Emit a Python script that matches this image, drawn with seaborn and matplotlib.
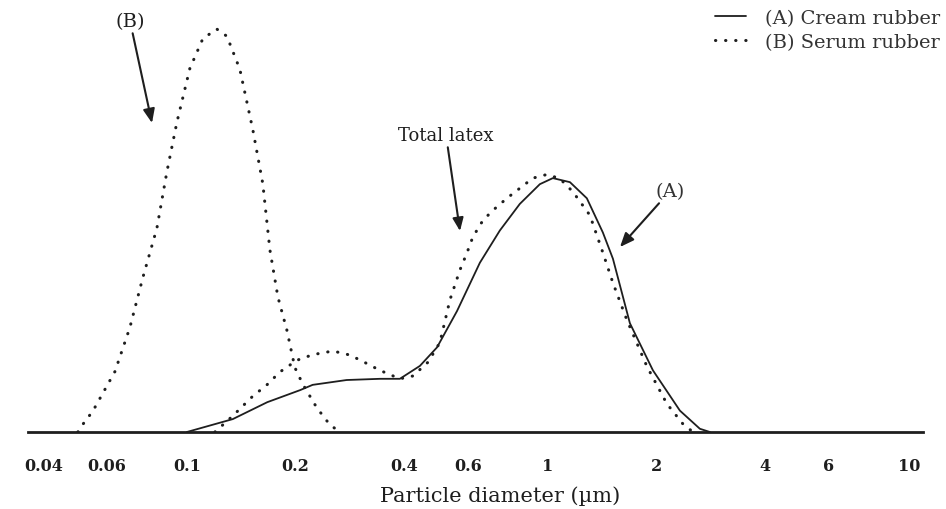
import numpy as np
import pandas as pd
import matplotlib
matplotlib.use("Agg")
import matplotlib.pyplot as plt
import seaborn as sns

# ---- data ----
# (A) Cream rubber - solid
cream_x = [0.100, 0.134, 0.167, 0.206, 0.223, 0.277, 0.343, 0.389, 0.442, 0.493,
           0.560, 0.648, 0.736, 0.836, 0.950, 1.032, 1.151, 1.282, 1.420, 1.514,
           1.687, 1.954, 2.321, 2.636, 2.81]
cream_y = [0.0, 3.2, 7.4, 10.4, 11.7, 12.9, 13.2, 13.2, 16.4, 21.0,
           30.0, 42.0, 50.0, 56.6, 61.5, 63.0, 62.0, 58.0, 49.5, 43.0,
           27.0, 15.3, 5.3, 0.8, 0.0]

# (B) Serum rubber - dotted
serum_x = [0.0499, 0.0512, 0.0549, 0.0632, 0.0695, 0.0755, 0.0826, 0.0880, 0.0938,
           0.1019, 0.1107, 0.1210, 0.1291, 0.1402, 0.1523, 0.1623, 0.1698, 0.1787,
           0.1892, 0.1991, 0.2096, 0.2291, 0.2489, 0.2654]
serum_y = [0.0, 1.6, 5.2, 15.0, 25.9, 38.3, 50.6, 64.5, 76.8,
           90.2, 97.6, 100.0, 98.2, 90.0, 75.0, 61.6, 45.2, 33.5,
           25.3, 16.0, 11.8, 6.0, 1.8, 0.0]

# Total latex - dotted
total_x = [0.1196, 0.134, 0.1523, 0.1666, 0.181, 0.2017, 0.2234, 0.2539, 0.2828,
           0.3073, 0.3425, 0.389, 0.4227, 0.4652, 0.5022, 0.5354, 0.5706, 0.5964,
           0.6197, 0.6606, 0.704, 0.7697, 0.8363, 0.9087, 0.9936, 1.079, 1.173,
           1.307, 1.420, 1.514, 1.655, 1.880, 2.136, 2.366, 2.522]
total_y = [0.0, 4.0, 8.9, 11.7, 14.9, 17.8, 19.2, 20.1, 19.1,
           17.5, 15.3, 13.2, 13.9, 17.3, 22.2, 32.8, 40.2, 44.4,
           48.4, 52.5, 55.0, 58.0, 60.5, 63.0, 63.9, 62.9, 59.6,
           53.8, 44.5, 37.0, 27.8, 16.3, 7.0, 2.0, 0.0]

tick_vals = [0.04, 0.06, 0.1, 0.2, 0.4, 0.6, 1, 2, 4, 6, 10]
tick_labels = ["0.04", "0.06", "0.1", "0.2", "0.4", "0.6", "1", "2", "4", "6", "10"]

legend_labels = ["(A) Cream rubber", "(B) Serum rubber"]
xlabel = "Particle diameter (\u00b5m)"

# ---- figure ----
sns.set_theme(style="white")
plt.rcParams["font.family"] = ["DejaVu Serif", "DejaVu Sans"]

W, H = 946, 510
fig = plt.figure(figsize=(W / 100, H / 100), dpi=100)
fig.patch.set_facecolor("white")
ax_l, ax_r, ax_b, ax_t = 28, 923, 433, 26
ax = fig.add_axes([ax_l / W, (H - ax_b) / H, (ax_r - ax_l) / W, (ax_b - ax_t) / H])
ax.set_facecolor("white")

ink = "#1e1e1e"
df_c = pd.DataFrame({"x": cream_x, "y": cream_y})
df_s = pd.DataFrame({"x": serum_x, "y": serum_y})
df_t = pd.DataFrame({"x": total_x, "y": total_y})

sns.lineplot(data=df_c, x="x", y="y", ax=ax, color=ink, lw=1.3, sort=False,
             estimator=None, label=legend_labels[0])
sns.lineplot(data=df_s, x="x", y="y", ax=ax, color=ink, lw=2.2, sort=False,
             estimator=None, label=legend_labels[1],
             dashes=False, linestyle=(0, (0.1, 3.2)), dash_capstyle="round")
sns.lineplot(data=df_t, x="x", y="y", ax=ax, color=ink, lw=2.2, sort=False,
             estimator=None, linestyle=(0, (0.1, 3.2)), dash_capstyle="round")
for ln in ax.lines[1:]:
    ln.set_dash_capstyle("round")

ax.set_xscale("log")
ax.set_xlim(0.0363, 10.94)
ax.set_ylim(0, 101)
ax.set_xticks(tick_vals)
ax.set_xticklabels(tick_labels)
ax.xaxis.set_minor_locator(matplotlib.ticker.NullLocator())
ax.tick_params(axis="x", direction="out", length=6, width=1.5, color=ink,
               pad=12, labelsize=11.5, labelcolor=ink)
for t in ax.get_xticklabels():
    t.set_fontweight("bold")
ax.set_yticks([])
ax.set_ylabel("")
for s in ["left", "right", "top"]:
    ax.spines[s].set_visible(False)
ax.spines["bottom"].set_color(ink)
ax.spines["bottom"].set_linewidth(2.0)

ax.set_xlabel(xlabel, fontsize=15, color=ink)
ax.xaxis.label.set_va("center")
ax.xaxis.set_label_coords((500 - ax_l) / (ax_r - ax_l), (ax_b - 496) / (ax_b - ax_t))

leg = ax.legend(loc="upper right", bbox_to_anchor=(948 / W, 1 - 2 / H),
                bbox_transform=fig.transFigure, frameon=False, fontsize=14,
                handlelength=1.6, handletextpad=1.0, labelspacing=0.3,
                borderaxespad=0)
for txt in leg.get_texts():
    txt.set_color("#333333")

# annotations (figure pixel coordinates, y measured from the top)
def fp(px, py):
    return (px, H - py)

arrow_kw = dict(arrowstyle="-|>,head_length=0.6,head_width=0.25", color=ink, lw=1.5,
                shrinkA=0, shrinkB=0)
ax.annotate("(B)", xy=fp(152, 124), xycoords="figure pixels",
            xytext=fp(130, 22), textcoords="figure pixels",
            ha="center", va="center", fontsize=14, color=ink, arrowprops=arrow_kw)
ax.annotate("Total latex", xy=fp(460, 232), xycoords="figure pixels",
            xytext=fp(446, 136), textcoords="figure pixels",
            ha="center", va="center", fontsize=13, color=ink, arrowprops=arrow_kw)
ax.annotate("(A)", xy=fp(620, 248), xycoords="figure pixels",
            xytext=fp(670, 192), textcoords="figure pixels",
            ha="center", va="center", fontsize=14, color="#333333", arrowprops=arrow_kw)

fig.savefig("out.png", dpi=100, facecolor="white")
